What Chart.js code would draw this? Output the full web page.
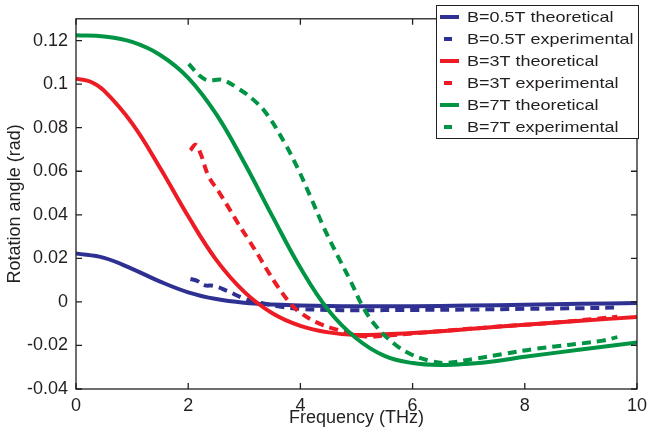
<!DOCTYPE html>
<html><head><meta charset="utf-8">
<script src="https://cdn.jsdelivr.net/npm/chart.js@4.4.1/dist/chart.umd.min.js"></script>
<style>html,body{margin:0;padding:0;background:#fff;}</style>
</head><body>
<canvas id="c" width="653" height="437"></canvas>
<script>
// ---- data ----
const xTicks = [0, 2, 4, 6, 8, 10];
const xTickLabels = ['0', '2', '4', '6', '8', '10'];
const yTicks = [-0.04, -0.02, 0, 0.02, 0.04, 0.06, 0.08, 0.1, 0.12];
const yTickLabels = ['-0.04', '-0.02', '0', '0.02', '0.04', '0.06', '0.08', '0.1', '0.12'];

const seriesLabels = ['B=0.5T theoretical', 'B=0.5T experimental', 'B=3T theoretical', 'B=3T experimental', 'B=7T theoretical', 'B=7T experimental'];

const freqBlueTheo = [0, 0.5, 1.0, 1.5, 2.0, 2.5, 3.0, 3.5, 4.0, 4.5, 5.0, 6.0, 7.0, 8.0, 9.0, 10];
const blueTheo     = [0.0222, 0.0202, 0.0152, 0.0093, 0.0044, 0.0013, -0.0004, -0.0012, -0.0016, -0.0019, -0.0020, -0.0020, -0.0017, -0.0013, -0.0009, -0.0005];

const freqBlueExp = [2.04, 2.15, 2.3, 2.45, 2.7, 3.0, 3.3, 3.6, 4.0, 4.5, 5.0, 6.0, 7.0, 8.0, 9.0, 9.65];
const blueExp     = [0.0105, 0.0098, 0.0076, 0.0074, 0.0050, 0.0015, -0.0005, -0.0020, -0.0032, -0.0037, -0.0038, -0.0037, -0.0035, -0.0032, -0.0029, -0.0026];

const freqRedTheo = [0, 0.25, 0.5, 1.0, 1.5, 2.0, 2.5, 3.0, 3.5, 4.0, 4.5, 5.0, 5.5, 6.0, 6.5, 7.0, 7.5, 8.0, 9.0, 10];
const redTheo     = [0.1025, 0.1012, 0.0970, 0.0820, 0.0615, 0.0393, 0.0193, 0.0046, -0.0052, -0.0110, -0.0140, -0.0152, -0.0149, -0.0143, -0.0135, -0.0125, -0.0114, -0.0105, -0.0087, -0.0069];

const freqRedExp = [2.04, 2.13, 2.22, 2.36, 2.54, 2.72, 2.89, 3.07, 3.25, 3.42, 3.6, 3.83, 4.0, 4.3, 4.66, 5.13, 5.5, 6.0, 6.4, 7.5, 8.5, 9.65];
const redExp     = [0.0696, 0.0722, 0.0681, 0.0579, 0.0508, 0.0433, 0.0360, 0.0288, 0.0214, 0.0141, 0.0069, -0.0010, -0.0050, -0.0095, -0.0128, -0.0158, -0.0155, -0.0145, -0.0136, -0.0114, -0.0096, -0.0068];

const freqGreenTheo = [0, 0.5, 1.0, 1.5, 2.0, 2.5, 3.0, 3.5, 4.0, 4.5, 5.0, 5.5, 6.0, 6.5, 7.0, 7.5, 8.0, 9.0, 10];
const greenTheo     = [0.1225, 0.1219, 0.1194, 0.1134, 0.1029, 0.0862, 0.0639, 0.0394, 0.0157, -0.0038, -0.0168, -0.0248, -0.0281, -0.0290, -0.0284, -0.0271, -0.0252, -0.0219, -0.0186];

const freqGreenExp = [2.01, 2.2, 2.36, 2.6, 2.89, 3.19, 3.42, 3.72, 3.95, 4.19, 4.42, 4.66, 4.89, 5.13, 5.36, 5.66, 5.95, 6.3, 6.6, 7.13, 7.6, 8.18, 9.36, 9.65];
const greenExp     = [0.1093, 0.1040, 0.1017, 0.1020, 0.0980, 0.0922, 0.0856, 0.0730, 0.0615, 0.0477, 0.0340, 0.0214, 0.0098, -0.0030, -0.0115, -0.0190, -0.0238, -0.0270, -0.0280, -0.0260, -0.0240, -0.0216, -0.0179, -0.0162];

// ---- styling ----
const BLUE = '#2E3192', RED = '#ED1C24', GREEN = '#009444';
const INK = '#231F20';
const FONT = "'Liberation Sans', Arial, Helvetica, sans-serif";
const DASH = [9, 6];

const pts = (xs, ys) => xs.map((x, i) => ({x: x, y: ys[i]}));
function ds(label, xs, ys, color, dashed, order) {
  return {
    label: label, data: pts(xs, ys), borderColor: color, backgroundColor: color,
    borderWidth: 4, borderDash: dashed ? DASH : [], pointRadius: 0, fill: false,
    tension: 0.4, borderCapStyle: 'butt', borderJoinStyle: 'round', order: order
  };
}

const frame = {
  id: 'frame',
  afterDatasetsDraw(chart) {
    const {ctx, chartArea: a, scales: {x, y}} = chart;
    ctx.save();
    ctx.strokeStyle = INK;
    ctx.lineWidth = 1.3;
    ctx.strokeRect(a.left, a.top, a.right - a.left, a.bottom - a.top);
    const L = 6;
    ctx.beginPath();
    xTicks.forEach(v => {
      const px = x.getPixelForValue(v);
      ctx.moveTo(px, a.bottom); ctx.lineTo(px, a.bottom - L);
      ctx.moveTo(px, a.top); ctx.lineTo(px, a.top + L);
    });
    yTicks.forEach(v => {
      const py = y.getPixelForValue(v);
      ctx.moveTo(a.left, py); ctx.lineTo(a.left + L, py);
      ctx.moveTo(a.right, py); ctx.lineTo(a.right - L, py);
    });
    ctx.stroke();
    ctx.restore();
  },
  afterDraw(chart) {
    const {ctx} = chart;
    const bx = 436, by = 5, bw = 202, bh = 133;
    ctx.save();
    ctx.fillStyle = '#fff';
    ctx.fillRect(bx, by, bw, bh);
    ctx.strokeStyle = INK;
    ctx.lineWidth = 1;
    ctx.strokeRect(bx + 0.5, by + 0.5, bw, bh);
    chart.data.datasets.forEach((d, i) => {
      const ry = 17 + 22 * i;
      ctx.strokeStyle = d.borderColor;
      ctx.lineWidth = 4;
      ctx.lineCap = 'butt';
      ctx.setLineDash([]);
      ctx.beginPath();
      if (d.borderDash.length) { ctx.moveTo(444, ry); ctx.lineTo(452, ry); }
      else { ctx.moveTo(440, ry); ctx.lineTo(459, ry); }
      ctx.stroke();
      ctx.save();
      ctx.translate(467, ry + 0.5);
      ctx.scale(1.2, 1);
      ctx.fillStyle = INK;
      ctx.font = '15px ' + FONT;
      ctx.textBaseline = 'middle';
      ctx.textAlign = 'left';
      ctx.fillText(d.label, 0, 0);
      ctx.restore();
    });
    ctx.restore();
  }
};

new Chart(document.getElementById('c'), {
  type: 'line',
  data: {
    datasets: [
      ds(seriesLabels[0], freqBlueTheo, blueTheo, BLUE, false, 6),
      ds(seriesLabels[1], freqBlueExp, blueExp, BLUE, true, 5),
      ds(seriesLabels[2], freqRedTheo, redTheo, RED, false, 4),
      ds(seriesLabels[3], freqRedExp, redExp, RED, true, 3),
      ds(seriesLabels[4], freqGreenTheo, greenTheo, GREEN, false, 2),
      ds(seriesLabels[5], freqGreenExp, greenExp, GREEN, true, 1)
    ]
  },
  options: {
    responsive: false,
    devicePixelRatio: 1,
    animation: false,
    layout: {padding: {top: 2, right: 10, left: 0, bottom: 0}},
    plugins: {legend: {display: false}, tooltip: {enabled: false}},
    scales: {
      x: {
        type: 'linear', min: 0, max: 10,
        afterBuildTicks: s => { s.ticks = xTicks.map(v => ({value: v})); },
        afterFit: s => { s.height = 48; },
        grid: {display: false, drawTicks: false},
        border: {display: false},
        ticks: {font: {family: FONT, size: 18}, color: INK, padding: 6, maxRotation: 0,
                callback: (v, i) => xTickLabels[i]},
        title: {display: true, text: 'Frequency (THz)', font: {family: FONT, size: 18}, color: INK,
                padding: {top: 0, bottom: 8}}
      },
      y: {
        type: 'linear', min: -0.04, max: 0.13,
        afterBuildTicks: s => { s.ticks = yTicks.map(v => ({value: v})); },
        afterFit: s => { s.width = 76; },
        grid: {display: false, drawTicks: false},
        border: {display: false},
        ticks: {font: {family: FONT, size: 18}, color: INK, padding: 8,
                callback: (v, i) => yTickLabels[i]},
        title: {display: true, text: 'Rotation angle (rad)', font: {family: FONT, size: 18}, color: INK,
                padding: {top: 4, bottom: 0}}
      }
    }
  },
  plugins: [frame]
});
</script>
</body></html>
